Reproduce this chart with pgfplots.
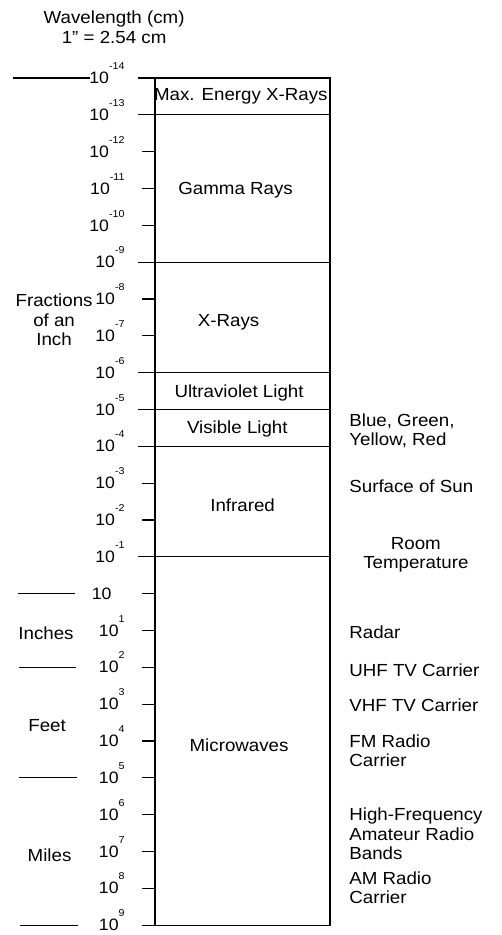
\documentclass[border=0pt]{standalone}
\usepackage{fontspec}
\setmainfont{Liberation Sans}[FakeStretch=1.07]
\usepackage{pgfplots}
\pgfplotsset{compat=1.18}
\newcommand{\tl}[1]{10\smash{\raisebox{14pt}{\fontsize{10}{10}\selectfont #1}}}
\newcommand{\tz}{10\rule{13pt}{0pt}}
\newcommand{\fs}{\fontsize{17.5}{19.5}\selectfont}
\begin{document}
\begin{tikzpicture}
\begin{axis}[
  scale only axis, width=175pt, height=847pt,
  xmin=0, xmax=1, ymin=-14, ymax=9, y dir=reverse,
  xtick=\empty,
  ytick={-14,-13,-12,-11,-10,-9,-8,-7,-6,-5,-4,-3,-2,-1,0,1,2,3,4,5,6,7,8,9},
  yticklabels={\tl{-14},\tl{-13},\tl{-12},\tl{-11},\tl{-10},\tl{-9},\tl{-8},\tl{-7},\tl{-6},\tl{-5},\tl{-4},\tl{-3},\tl{-2},\tl{-1},\tz,\tl{1},\tl{2},\tl{3},\tl{4},\tl{5},\tl{6},\tl{7},\tl{8},\tl{9}},
  ytick pos=left, tick align=outside,
  major tick length=13pt,
  tick style={black, line width=1.2pt},
  axis line style={black, line width=1.2pt},
  yticklabel style={font=\fontsize{16.5}{16.5}\selectfont, anchor=east, xshift=-14pt},
  clip=false,
]
% band boundaries
\pgfplotsinvokeforeach{-14,-13,-9,-6,-5,-4,-1}{
  \addplot[black, line width=1.2pt] coordinates {(-0.1,#1) (1,#1)};
}
\addplot[black, line width=1.2pt] coordinates {(-0.05,9) (1,9)};
% left unit separators
\addplot[black, line width=1.2pt] coordinates {(-0.811,-14) (-0.371,-14)};
\addplot[black, line width=1.2pt] coordinates {(-0.783,0) (-0.457,0)};
\addplot[black, line width=1.2pt] coordinates {(-0.777,2) (-0.451,2)};
\addplot[black, line width=1.2pt] coordinates {(-0.777,5) (-0.446,5)};
\addplot[black, line width=1.2pt] coordinates {(-0.771,9) (-0.440,9)};
% band labels
\node[font=\fs] at (axis cs:0.49,-13.5) {Max. Energy X-Rays};
\node[font=\fs] at (axis cs:0.46,-10.96) {Gamma Rays};
\node[font=\fs] at (axis cs:0.42,-7.38) {X-Rays};
\node[font=\fs] at (axis cs:0.48,-5.45) {Ultraviolet Light};
\node[font=\fs] at (axis cs:0.47,-4.47) {Visible Light};
\node[font=\fs] at (axis cs:0.50,-2.41) {Infrared};
\node[font=\fs] at (axis cs:0.48,4.11) {Microwaves};
% left labels
\node[font=\fs, align=center] at (axis cs:-0.577,-7.43) {Fractions\\of an\\Inch};
\node[font=\fs] at (axis cs:-0.623,1.07) {Inches};
\node[font=\fs] at (axis cs:-0.617,3.57) {Feet};
\node[font=\fs] at (axis cs:-0.603,7.1) {Miles};
% right labels
\node[font=\fs, align=left, anchor=west, inner sep=0pt] at (axis cs:1.109,-4.42) {Blue, Green,\\Yellow, Red};
\node[font=\fs, anchor=west, inner sep=0pt] at (axis cs:1.109,-2.92) {Surface of Sun};
\node[font=\fs, align=center] at (axis cs:1.49,-1.06) {Room\\Temperature};
\node[font=\fs, anchor=west, inner sep=0pt] at (axis cs:1.109,1.06) {Radar};
\node[font=\fs, anchor=west, inner sep=0pt] at (axis cs:1.109,2.07) {UHF TV Carrier};
\node[font=\fs, anchor=west, inner sep=0pt] at (axis cs:1.109,3.02) {VHF TV Carrier};
\node[font=\fs, align=left, anchor=west, inner sep=0pt] at (axis cs:1.109,4.27) {FM Radio\\Carrier};
\node[font=\fs, align=left, anchor=west, inner sep=0pt] at (axis cs:1.109,6.53) {High-Frequency\\Amateur Radio\\Bands};
\node[font=\fs, align=left, anchor=west, inner sep=0pt] at (axis cs:1.109,7.98) {AM Radio\\Carrier};
% title
\node[font=\fs, align=center] at (axis cs:-0.234,-15.385) {Wavelength (cm)\\1” = 2.54 cm};
\coordinate (bbsw) at (axis cs:-0.886,9.269);
\coordinate (bbne) at (axis cs:1.977,-16.118);
\end{axis}
\pgfresetboundingbox
\useasboundingbox (bbsw) rectangle (bbne);
\end{tikzpicture}
\end{document}
